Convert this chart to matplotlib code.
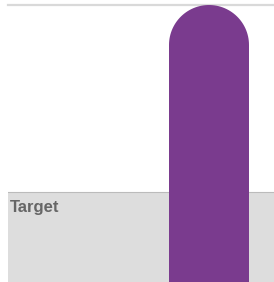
import numpy as np
import matplotlib
matplotlib.use("Agg")
import matplotlib.pyplot as plt
from matplotlib.path import Path
from matplotlib.transforms import IdentityTransform

# data
categories = ["Actual"]
values = [100]
target = 32.5
y_max = 100

W, H = 274, 282
fig = plt.figure(figsize=(W / 100, H / 100), dpi=100)
ax = fig.add_axes([8 / W, 0, 1 - 8 / W, (H - 5) / H])
ax.set_xlim(-2.5125, 0.8125)
ax.set_ylim(0, y_max)
ax.axis("off")

# target band
ax.axhspan(0, target, color="#dddddd", zorder=0, lw=0)
ax.axhline(target, color="#bbbbbb", lw=0.8, zorder=1)
ax.axhline(y_max, color="#d9d9d9", lw=1.6, zorder=1, clip_on=False)
ax.text(-2.49, target - 3.0, "Target", color="#666666", fontsize=12,
        fontweight="bold", family="Liberation Sans", va="top", ha="left")

bars = ax.bar(range(len(categories)), values, width=1.0, color="#7a3b8e",
              zorder=2)

# round the top of each bar (clip in pixel coords)
fig.canvas.draw()
for rect in bars:
    bb = rect.get_window_extent()
    r = bb.width / 2
    cx = bb.x0 + r
    top = bb.y1 - r
    t = np.linspace(np.pi, 0, 60)
    arc = np.column_stack([cx + r * np.cos(t), top + r * np.sin(t)])
    verts = np.vstack([[bb.x0, bb.y0 - 50], arc, [bb.x1, bb.y0 - 50],
                       [bb.x0, bb.y0 - 50]])
    codes = [Path.MOVETO] + [Path.LINETO] * (len(verts) - 2) + [Path.CLOSEPOLY]
    rect.set_clip_path(Path(verts, codes), IdentityTransform())

fig.savefig("out.png", dpi=100)
